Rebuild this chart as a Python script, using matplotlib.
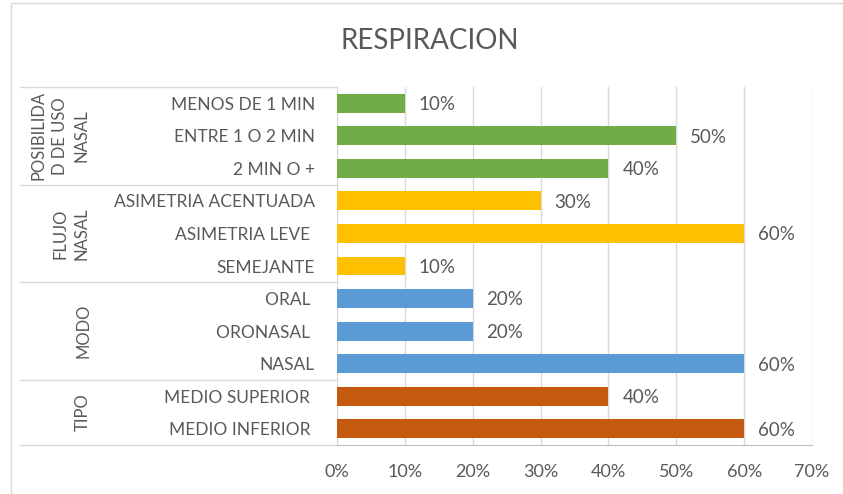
import numpy as np
import matplotlib.pyplot as plt
import matplotlib.transforms as mtransforms
from matplotlib.patches import Rectangle

plt.rcParams['font.family'] = ['Lato', 'DejaVu Sans']

# categories, top to bottom
categories = ['MENOS DE 1 MIN', 'ENTRE 1 O 2 MIN', '2 MIN O +',
              'ASIMETRIA ACENTUADA', 'ASIMETRIA LEVE ', 'SEMEJANTE',
              'ORAL ', 'ORONASAL ', 'NASAL',
              'MEDIO SUPERIOR ', 'MEDIO INFERIOR ']
values = [0.10, 0.50, 0.40,
          0.30, 0.60, 0.10,
          0.20, 0.20, 0.60,
          0.40, 0.60]
groups = ['POSIBILIDA\nD DE USO\nNASAL', 'FLUJO\nNASAL', 'MODO', 'TIPO']
group_sizes = [3, 3, 3, 2]
group_colors = ['#70AD47', '#FFC000', '#5B9BD5', '#C55A11']

W, H = 843, 494
fig = plt.figure(figsize=(W / 100, H / 100), dpi=100)
ax = fig.add_axes([337 / W, 1 - 445 / H, (812 - 337) / W, (445 - 87) / H])

colors = []
for c, n in zip(group_colors, group_sizes):
    colors += [c] * n

y = np.arange(len(categories))
ax.barh(y, values, height=0.58, color=colors, zorder=3)
ax.set_ylim(len(categories) - 0.5, -0.5)
ax.set_xlim(0, 0.7)

for yi, v in zip(y, values):
    ax.annotate(f'{v:.0%}', (v, yi), xytext=(10, -1), textcoords='offset points',
                va='center', ha='left', fontsize=13.5, color='#595959')

ax.set_xticks(np.arange(0, 0.71, 0.1))
ax.set_xticklabels([f'{t:.0%}' for t in np.arange(0, 0.71, 0.1)])
ax.set_yticks(y)
ax.set_yticklabels(categories)
ax.tick_params(axis='y', length=0, labelsize=12.5, labelcolor='#595959', pad=16)
ax.tick_params(axis='x', length=0, labelsize=13, labelcolor='#595959', pad=14)

ax.xaxis.grid(True, color='#D9D9D9', linewidth=1, zorder=0)
for s in ['top', 'right']:
    ax.spines[s].set_visible(False)
ax.spines['left'].set_color('#D9D9D9')
ax.spines['bottom'].set_color('#BFBFBF')

# group separators and labels
trans = mtransforms.blended_transform_factory(fig.transFigure, ax.transData)
bounds = np.concatenate([[0], np.cumsum(group_sizes)]) - 0.5
for b in bounds:
    ax.plot([20 / W, 337 / W], [b, b], transform=trans, color='#D9D9D9',
            linewidth=1, clip_on=False)
group_x = [60, 71, 83, 83]
for g, x, lo, hi in zip(groups, group_x, bounds[:-1], bounds[1:]):
    ax.text(x / W, (lo + hi) / 2, g, transform=trans, rotation=90,
            ha='center', va='center', fontsize=12, color='#595959',
            linespacing=1.4)

fig.text(430 / W, 1 - 41 / H, 'RESPIRACION', ha='center', va='center',
         fontsize=20, color='#595959')

# chart frame
fig.patches.append(Rectangle((11 / W, -0.1), 1.2, 1 - 3 / H + 0.1,
                             transform=fig.transFigure, fill=False,
                             edgecolor='#D9D9D9', linewidth=1))

fig.savefig('out.png', dpi=100)
